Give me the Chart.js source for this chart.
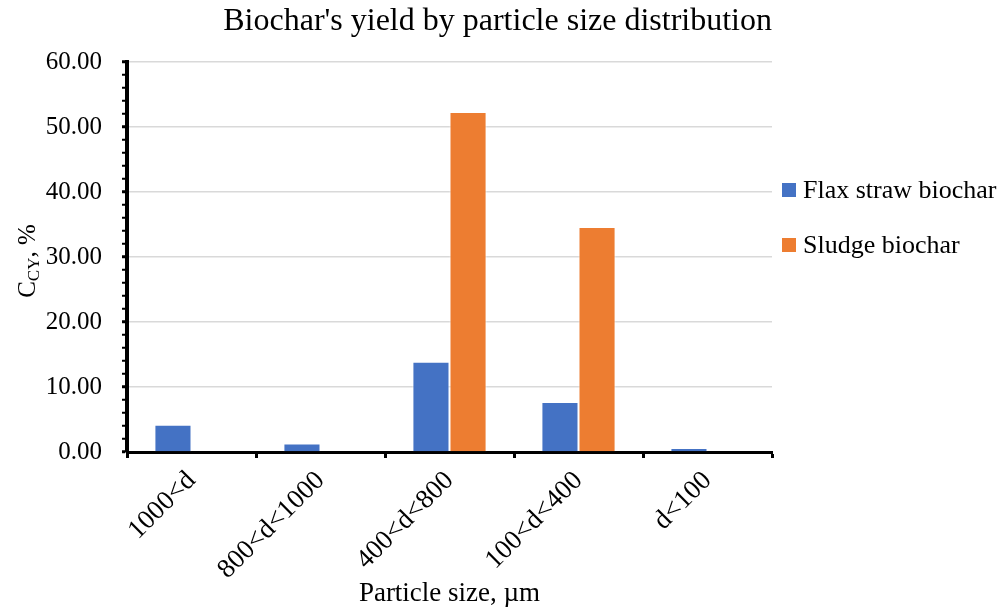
<!DOCTYPE html>
<html>
<head>
<meta charset="utf-8">
<script src="https://cdn.jsdelivr.net/npm/chart.js@4.4.1/dist/chart.umd.min.js"></script>
<style>
  html, body { margin: 0; padding: 0; background: #ffffff; }
  canvas { display: block; }
</style>
</head>
<body>
<canvas id="chart" width="1006" height="610"></canvas>
<script>
// Particle size classes (µm) and biochar yield per class, %
const categories = ['1000<d', '800<d<1000', '400<d<800', '100<d<400', 'd<100'];
const flaxStrawYield = [4.2, 1.3, 13.9, 7.7, 0.6];
const sludgeYield = [0, 0, 52.3, 34.6, 0];
const seriesNames = ['Flax straw biochar', 'Sludge biochar'];
const seriesColors = ['#4472C4', '#ED7D31'];
const yMin = 0, yMax = 60, yMajorStep = 10, yMinorStep = 2;

const FONT = "'Liberation Serif', 'Times New Roman', serif";

// Axis title with the CY subscript, drawn on the canvas
const yTitlePlugin = {
  id: 'yTitle',
  afterDraw(chart) {
    const ctx = chart.ctx;
    const area = chart.chartArea;
    const parts = [
      { t: 'C', font: '25px ' + FONT, dy: 0 },
      { t: 'CY', font: '17px ' + FONT, dy: 4 },
      { t: ', %', font: '25px ' + FONT, dy: 0 }
    ];
    ctx.save();
    let total = 0;
    parts.forEach(p => { ctx.font = p.font; p.w = ctx.measureText(p.t).width; total += p.w; });
    ctx.translate(26, (area.top + area.bottom) / 2 + 4);
    ctx.rotate(-Math.PI / 2);
    ctx.fillStyle = '#000';
    ctx.textBaseline = 'alphabetic';
    ctx.textAlign = 'left';
    let x = -total / 2;
    parts.forEach(p => {
      ctx.font = p.font;
      ctx.fillText(p.t, x, 9 + p.dy);
      x += p.w;
    });
    ctx.restore();
  }
};

// Legend at the right of the plot, square swatches
const sideLegendPlugin = {
  id: 'sideLegend',
  afterDraw(chart) {
    const ctx = chart.ctx;
    ctx.save();
    ctx.font = '26px ' + FONT;
    ctx.textBaseline = 'middle';
    ctx.textAlign = 'left';
    chart.data.datasets.forEach((ds, i) => {
      const y = 190 + i * 55;
      ctx.fillStyle = ds.backgroundColor;
      ctx.fillRect(782, y - 7, 14, 14);
      ctx.fillStyle = '#000';
      ctx.fillText(ds.label, 803, y + 1);
    });
    ctx.restore();
  }
};

new Chart(document.getElementById('chart'), {
  type: 'bar',
  data: {
    labels: categories,
    datasets: [
      { label: seriesNames[0], data: flaxStrawYield, backgroundColor: seriesColors[0],
        borderColor: 'rgba(255,255,255,0.7)', borderWidth: 1 },
      { label: seriesNames[1], data: sludgeYield, backgroundColor: seriesColors[1],
        borderColor: 'rgba(255,255,255,0.7)', borderWidth: 1 }
    ]
  },
  options: {
    responsive: false,
    animation: false,
    layout: { padding: { left: 0, right: 234, top: 0, bottom: 0 } },
    datasets: { bar: { categoryPercentage: 0.575, barPercentage: 1.0 } },
    plugins: {
      legend: { display: false },
      tooltip: { enabled: false },
      title: {
        display: true,
        align: 'end',
        text: "Biochar's yield by particle size distribution",
        color: '#000',
        font: { family: FONT, size: 32, weight: 'normal', lineHeight: 1.2 },
        padding: { top: 2, bottom: 21.6 }
      }
    },
    scales: {
      x: {
        afterFit(scale) { scale.height = 158; },
        border: { display: true, color: '#000', width: 3 },
        grid: {
          offset: true,
          drawOnChartArea: false,
          tickColor: '#000',
          tickLength: 6,
          tickWidth: 3
        },
        ticks: {
          color: '#000',
          font: { family: FONT, size: 27 },
          maxRotation: 45,
          minRotation: 45,
          padding: 7,
          autoSkip: false
        },
        title: {
          display: true,
          text: 'Particle size, µm',
          color: '#000',
          font: { family: FONT, size: 27 },
          padding: { top: 0, bottom: 0 }
        }
      },
      y: {
        min: yMin,
        max: yMax,
        afterFit(scale) { scale.width = 127; },
        border: { display: true, color: '#000', width: 4 },
        grid: {
          color: ctx => (ctx.tick && ctx.tick.value % yMajorStep === 0) ? '#d9d9d9' : 'rgba(0,0,0,0)',
          lineWidth: 1.5,
          tickColor: '#000',
          tickLength: 5,
          tickWidth: ctx => (ctx.tick && ctx.tick.value % yMajorStep === 0) ? 3 : 2
        },
        ticks: {
          stepSize: yMinorStep,
          autoSkip: false,
          color: '#000',
          font: { family: FONT, size: 25 },
          padding: 20,
          callback: v => (v % yMajorStep === 0) ? v.toFixed(2) : ''
        }
      }
    }
  },
  plugins: [yTitlePlugin, sideLegendPlugin]
});
</script>
</body>
</html>
